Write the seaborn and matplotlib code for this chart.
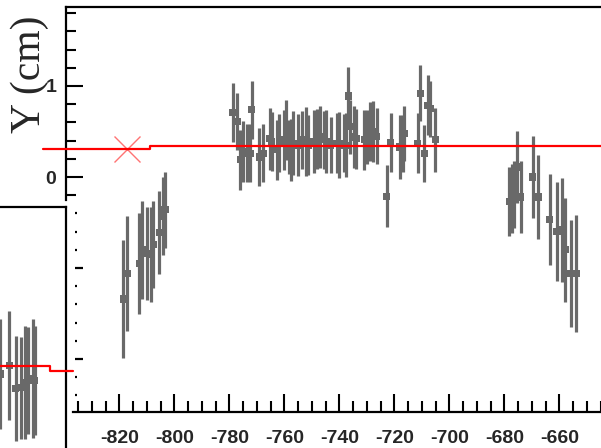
import matplotlib
matplotlib.use("Agg")
import matplotlib.pyplot as plt
import seaborn as sns
import pandas as pd

# Nhóm điểm bên trái (đi lên)
left_x = [-818.5, -817.1, -812.7, -811.6, -810.0, -808.6, -807.6, -805.5, -804.2, -803.4]
left_y = [-1.34, -1.06, -0.95, -0.80, -0.84, -0.85, -0.74, -0.61, -0.43, -0.36]
left_err = [0.65, 0.63, 0.56, 0.54, 0.51, 0.52, 0.48, 0.46, 0.43, 0.42]

# Nhóm điểm ở giữa
mid_x = [-778.8, -777.1, -776.1, -775.1, -773.7, -772.5, -771.9, -769.1, -767.6, -765.4,
         -764.6, -762.8, -761.8, -760.3, -759.4, -758.2, -757.7, -756.7, -754.9, -753.7,
         -752.1, -751.3, -749.4, -748.2, -747.0, -745.6, -744.8, -743.1, -741.0, -740.0,
         -738.5, -737.6, -736.7, -736.1, -734.6, -733.9, -731.0, -730.0, -728.8, -727.9,
         -726.4, -722.8, -721.3, -718.0, -717.0, -716.5, -711.6, -710.6, -709.2, -707.9,
         -707.0, -705.2]
mid_y = [0.71, 0.61, 0.19, 0.28, 0.26, 0.26, 0.74, 0.22, 0.26, 0.42,
         0.39, 0.30, 0.37, 0.41, 0.52, 0.33, 0.30, 0.37, 0.35, 0.41,
         0.39, 0.35, 0.39, 0.42, 0.44, 0.41, 0.39, 0.35, 0.37, 0.35,
         0.37, 0.35, 0.89, 0.55, 0.44, 0.42, 0.41, 0.44, 0.50, 0.50,
         0.45, -0.21, 0.38, 0.33, 0.37, 0.48, 0.37, 0.92, 0.26, 0.79,
         0.75, 0.41]
mid_err = [0.32, 0.31, 0.33, 0.33, 0.32, 0.32, 0.32, 0.32, 0.32, 0.34,
           0.32, 0.33, 0.32, 0.33, 0.33, 0.30, 0.34, 0.35, 0.34, 0.32,
           0.38, 0.33, 0.35, 0.33, 0.34, 0.32, 0.35, 0.31, 0.33, 0.36,
           0.32, 0.35, 0.32, 0.30, 0.34, 0.33, 0.33, 0.30, 0.32, 0.34,
           0.31, 0.34, 0.32, 0.35, 0.31, 0.30, 0.33, 0.31, 0.31, 0.33,
           0.31, 0.35]

# Nhóm điểm bên phải (đi xuống)
right_x = [-678.3, -677.3, -676.4, -675.5, -674.0, -669.7, -667.8, -663.6, -660.9, -658.9,
           -657.9, -655.8, -653.9]
right_y = [-0.27, -0.24, -0.19, 0.11, -0.22, 0.00, -0.22, -0.47, -0.60, -0.58,
           -0.80, -1.06, -1.06]
right_err = [0.38, 0.38, 0.37, 0.40, 0.40, 0.45, 0.46, 0.50, 0.54, 0.57,
             0.57, 0.59, 0.64]

# Đường đỏ (fit) và dấu X
fit_x = [-847.7, -808.8, -644.9]
fit_y = [0.308, 0.34, 0.34]
cross_x = [-817.2]
cross_y = [0.308]

# Khung nhỏ góc dưới bên trái
inset_x = [-664.0, -660.6, -658.2, -656.5, -654.9, -653.7, -652.1, -651.3]
inset_y = [0.25, 0.34, 0.09, 0.10, 0.16, 0.18, 0.20, 0.18]
inset_err = [0.60, 0.60, 0.58, 0.56, 0.62, 0.59, 0.65, 0.60]
inset_fit_x = [-664.0, -645.8, -637.5]
inset_fit_y = [0.34, 0.286, 0.286]

x_major = list(range(-820, -650, 20))
x_minor = list(range(-835, -644, 5))
y_major_up = [0, 1]
y_minor_up = [-0.2, 0.2, 0.4, 0.6, 0.8, 1.2, 1.4, 1.6, 1.8]
y_major_low = [-1, -2]
y_minor_low = [-0.4, -0.6, -0.8, -1.2, -1.4, -1.6, -1.8, -2.2, -2.4]

gray = '#696969'
red = '#ff0000'

sns.set_theme(style="white")
plt.rcParams['font.family'] = ['Liberation Sans', 'DejaVu Sans']

W, H = 601, 448
fig = plt.figure(figsize=(W / 100, H / 100), dpi=100)

# Trục chính
ax = fig.add_axes([66 / W, 1 - 412 / H, (W - 66) / W, (412 - 7) / H])
ax.set_facecolor('none')
ax.set_xlim(-839.4, -644.9)
ax.set_ylim(-2.582, 1.868)

df = pd.DataFrame({
    'x': left_x + mid_x + right_x,
    'y': left_y + mid_y + right_y,
    'err': left_err + mid_err + right_err,
})
ax.errorbar(df['x'], df['y'], yerr=df['err'], fmt='none', ecolor=gray,
            elinewidth=2.3, capsize=0, zorder=2)
sns.scatterplot(data=df, x='x', y='y', marker='s', s=26, color=gray,
                edgecolor='none', ax=ax, zorder=3, legend=False)

ax.plot(fit_x, fit_y, drawstyle='steps-post', color=red, lw=1.6, clip_on=False, zorder=4)
ax.plot(cross_x, cross_y, marker='x', ms=19, mew=1.0, color=red, alpha=0.55,
        linestyle='none', clip_on=False, zorder=5)

for side in ['top', 'left', 'bottom']:
    ax.spines[side].set_visible(True)
    ax.spines[side].set_color('black')
    ax.spines[side].set_linewidth(1.6)
ax.spines['right'].set_visible(False)
ax.spines['left'].set_bounds(-0.253, 1.868)
ax.spines['bottom'].set_bounds(-836.8, -644.9)

ax.set_xticks(x_major)
ax.set_xticks(x_minor, minor=True)
ax.set_xticklabels([str(v) for v in x_major])
ax.set_yticks(y_major_up)
ax.set_yticks(y_minor_up, minor=True)
ax.set_yticklabels([str(v) for v in y_major_up])
ax.tick_params(axis='both', which='both', direction='in', width=1.5, color='black',
               bottom=True, left=True, top=False, right=False, labelsize=14)
ax.tick_params(axis='x', which='major', length=13, pad=13)
ax.tick_params(axis='x', which='minor', length=7.7)
ax.tick_params(axis='y', which='major', length=12, pad=7)
ax.tick_params(axis='y', which='minor', length=7)
for lab in ax.get_xticklabels() + ax.get_yticklabels():
    lab.set_fontweight('bold')
ax.set_xlabel('')
ax.set_ylabel('')

# Vạch chia phần dưới của trục Y
axl = fig.add_axes([75 / W, 1 - 412 / H, 0.02, (412 - 7) / H])
axl.set_facecolor('none')
axl.set_ylim(-2.582, 1.868)
for side in axl.spines:
    axl.spines[side].set_visible(False)
axl.set_xticks([])
axl.set_yticks(y_major_low)
axl.set_yticks(y_minor_low, minor=True)
axl.tick_params(axis='y', which='both', direction='in', left=True, labelleft=False,
                width=1.6, color='black')
axl.tick_params(axis='y', which='major', length=6)
axl.tick_params(axis='y', which='minor', length=1.3)

# Khung nhỏ bên trái
axi = fig.add_axes([0, 0, 66 / W, (448 - 207) / H])
axi.set_facecolor('none')
axi.set_xlim(-664, -640)
axi.set_ylim(-0.563, 2.085)
df_in = pd.DataFrame({'x': inset_x, 'y': inset_y, 'err': inset_err})
axi.errorbar(df_in['x'], df_in['y'], yerr=df_in['err'], fmt='none', ecolor=gray,
             elinewidth=2.3, capsize=0, zorder=2)
sns.scatterplot(data=df_in, x='x', y='y', marker='s', s=26, color=gray,
                edgecolor='none', ax=axi, zorder=3, legend=False)
axi.plot(inset_fit_x, inset_fit_y, drawstyle='steps-post', color=red, lw=1.6,
         clip_on=False, zorder=4)
for side in ['top', 'right']:
    axi.spines[side].set_visible(True)
    axi.spines[side].set_color('black')
    axi.spines[side].set_linewidth(1.6)
for side in ['left', 'bottom']:
    axi.spines[side].set_visible(False)
axi.set_xticks([])
axi.set_yticks([])
axi.set_xlabel('')
axi.set_ylabel('')

fig.text(30 / W, 1 - 74 / H, 'Y (cm)', rotation=90, fontsize=30,
         family=['Liberation Serif', 'DejaVu Serif'], ha='center', va='center')

fig.savefig('out.png', dpi=100)
